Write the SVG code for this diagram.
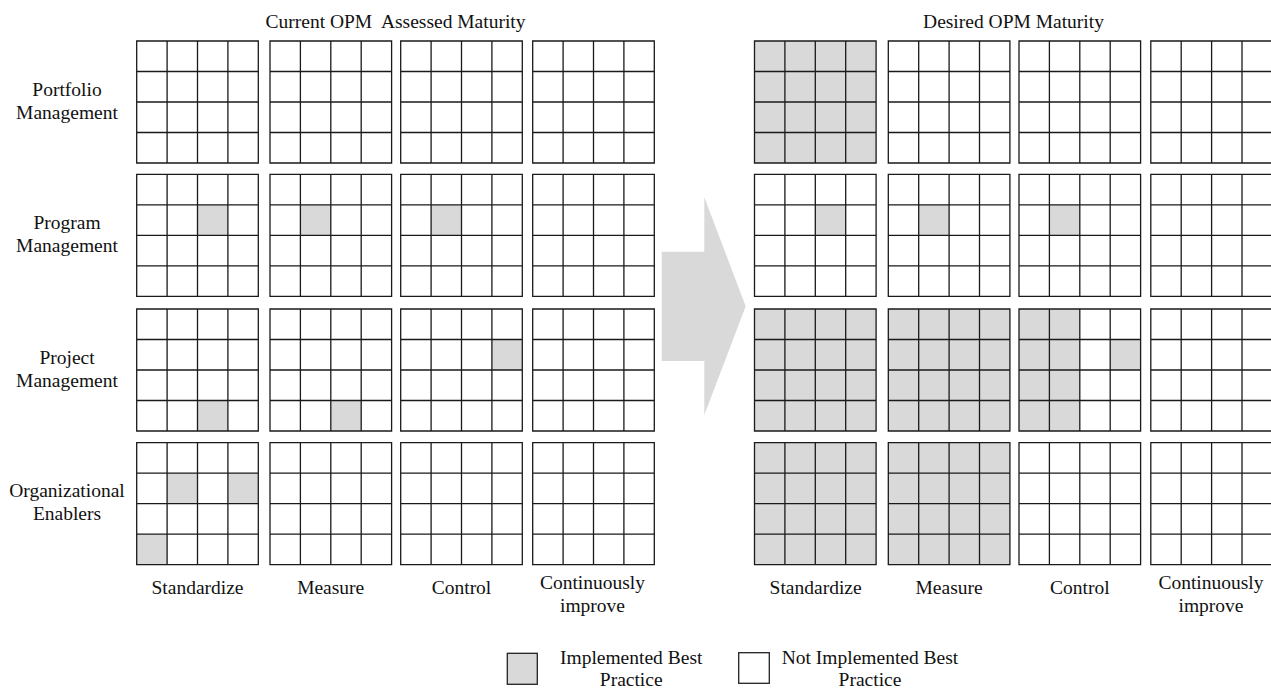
<svg xmlns="http://www.w3.org/2000/svg" xmlns:xlink="http://www.w3.org/1999/xlink" width="1271" height="689" viewBox="0 0 1271 689">
<style>
text{font-family:"Liberation Serif","Times New Roman",serif;font-size:19.5px;fill:#111;text-anchor:middle}
.gl{fill:none;stroke:#1a1a1a;stroke-width:1.3}
.on{fill:#d9d9d9}
.box{stroke:#222;stroke-width:1.3}
</style>
<defs>
<path id="grid" class="gl" d="M0,0H121.6V122H0Z M30.4,0V122 M60.8,0V122 M91.2,0V122 M0,30.5H121.6 M0,61H121.6 M0,91.5H121.6"/>
<rect id="c" class="on" width="30.4" height="30.5"/>
<rect id="full" class="on" width="121.6" height="122"/>
<rect id="half" class="on" width="60.8" height="122"/>
</defs>
<rect width="1271" height="689" fill="#fff"/>
<text x="395.5" y="28" xml:space="preserve">Current OPM  Assessed Maturity</text>
<text x="1013.5" y="28">Desired OPM Maturity</text>
<g id="row-labels">
<text x="67" y="95.5">Portfolio</text><text x="67" y="118.5">Management</text>
<text x="67" y="229">Program</text><text x="67" y="252">Management</text>
<text x="67" y="363.5">Project</text><text x="67" y="386.5">Management</text>
<text x="67" y="497">Organizational</text><text x="67" y="520">Enablers</text>
</g>
<g id="current">
<g id="cur-portfolio-std" transform="translate(136.7,41)"><use href="#grid"/></g>
<g id="cur-portfolio-mea" transform="translate(270,41)"><use href="#grid"/></g>
<g id="cur-portfolio-ctl" transform="translate(400.7,41)"><use href="#grid"/></g>
<g id="cur-portfolio-imp" transform="translate(532.7,41)"><use href="#grid"/></g>
<g id="cur-program-std" transform="translate(136.7,174.3)"><use href="#c" x="60.8" y="30.5"/><use href="#grid"/></g>
<g id="cur-program-mea" transform="translate(270,174.3)"><use href="#c" x="30.4" y="30.5"/><use href="#grid"/></g>
<g id="cur-program-ctl" transform="translate(400.7,174.3)"><use href="#c" x="30.4" y="30.5"/><use href="#grid"/></g>
<g id="cur-program-imp" transform="translate(532.7,174.3)"><use href="#grid"/></g>
<g id="cur-project-std" transform="translate(136.7,309)"><use href="#c" x="60.8" y="91.5"/><use href="#grid"/></g>
<g id="cur-project-mea" transform="translate(270,309)"><use href="#c" x="60.8" y="91.5"/><use href="#grid"/></g>
<g id="cur-project-ctl" transform="translate(400.7,309)"><use href="#c" x="91.2" y="30.5"/><use href="#grid"/></g>
<g id="cur-project-imp" transform="translate(532.7,309)"><use href="#grid"/></g>
<g id="cur-org-std" transform="translate(136.7,442.7)"><use href="#c" x="30.4" y="30.5"/><use href="#c" x="91.2" y="30.5"/><use href="#c" x="0" y="91.5"/><use href="#grid"/></g>
<g id="cur-org-mea" transform="translate(270,442.7)"><use href="#grid"/></g>
<g id="cur-org-ctl" transform="translate(400.7,442.7)"><use href="#grid"/></g>
<g id="cur-org-imp" transform="translate(532.7,442.7)"><use href="#grid"/></g>
</g>
<g id="desired">
<g id="des-portfolio-std" transform="translate(754.5,41)"><use href="#full"/><use href="#grid"/></g>
<g id="des-portfolio-mea" transform="translate(888.3,41)"><use href="#grid"/></g>
<g id="des-portfolio-ctl" transform="translate(1019,41)"><use href="#grid"/></g>
<g id="des-portfolio-imp" transform="translate(1150.8,41)"><use href="#grid"/></g>
<g id="des-program-std" transform="translate(754.5,174.3)"><use href="#c" x="60.8" y="30.5"/><use href="#grid"/></g>
<g id="des-program-mea" transform="translate(888.3,174.3)"><use href="#c" x="30.4" y="30.5"/><use href="#grid"/></g>
<g id="des-program-ctl" transform="translate(1019,174.3)"><use href="#c" x="30.4" y="30.5"/><use href="#grid"/></g>
<g id="des-program-imp" transform="translate(1150.8,174.3)"><use href="#grid"/></g>
<g id="des-project-std" transform="translate(754.5,309)"><use href="#full"/><use href="#grid"/></g>
<g id="des-project-mea" transform="translate(888.3,309)"><use href="#full"/><use href="#grid"/></g>
<g id="des-project-ctl" transform="translate(1019,309)"><use href="#half"/><use href="#c" x="91.2" y="30.5"/><use href="#grid"/></g>
<g id="des-project-imp" transform="translate(1150.8,309)"><use href="#grid"/></g>
<g id="des-org-std" transform="translate(754.5,442.7)"><use href="#full"/><use href="#grid"/></g>
<g id="des-org-mea" transform="translate(888.3,442.7)"><use href="#full"/><use href="#grid"/></g>
<g id="des-org-ctl" transform="translate(1019,442.7)"><use href="#grid"/></g>
<g id="des-org-imp" transform="translate(1150.8,442.7)"><use href="#grid"/></g>
</g>
<g id="col-labels">
<text x="197.5" y="594">Standardize</text>
<text x="330.7" y="594">Measure</text>
<text x="461.5" y="594">Control</text>
<text x="592.5" y="589">Continuously</text><text x="592.5" y="612">improve</text>
<text x="815.6" y="594">Standardize</text>
<text x="949.1" y="594">Measure</text>
<text x="1079.8" y="594">Control</text>
<text x="1211" y="589">Continuously</text><text x="1211" y="612">improve</text>
</g>
<g id="connectors">
<polygon id="arrow" fill="#d9d9d9" points="661.7,251.7 704.3,251.7 704.3,197.3 745.7,306.2 704.3,415 704.3,361 661.7,361"/>
</g>
<g id="legend">
<g id="legend-implemented">
<rect class="on box" x="507.3" y="653.3" width="30" height="31"/>
<text x="631.2" y="664">Implemented Best</text><text x="631.2" y="686">Practice</text>
</g>
<g id="legend-not-implemented">
<rect class="box" fill="#fff" x="738.7" y="652.7" width="30.6" height="30.6"/>
<text x="870" y="664">Not Implemented Best</text><text x="870" y="686">Practice</text>
</g>
</g>
</svg>
